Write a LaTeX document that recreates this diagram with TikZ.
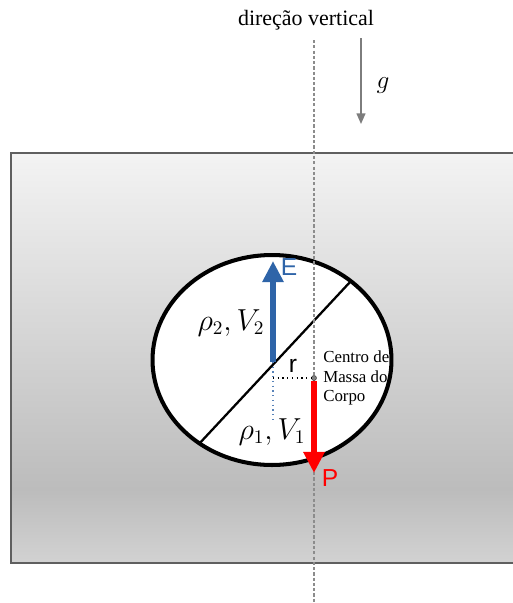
\documentclass[tikz,border=0pt]{standalone}
\usepackage{fontspec}
\setmainfont{Liberation Serif}
\setsansfont{Liberation Sans}
\usepackage{tikz}
\usetikzlibrary{positioning,arrows.meta,shapes.geometric}

\definecolor{azulE}{RGB}{46,100,168}
\definecolor{cinzaBorda}{RGB}{95,95,95}
\definecolor{cinzaBase}{RGB}{210,210,210}
\definecolor{cinzaEscuro}{RGB}{188,188,188}
\definecolor{cinzaClaro}{RGB}{243,243,243}
\definecolor{cinzaSeta}{RGB}{125,125,125}
\pgfdeclareverticalshading{fundo}{100bp}{color(0bp)=(cinzaBase); color(25bp)=(cinzaBase); color(34bp)=(cinzaEscuro); color(75bp)=(cinzaClaro); color(100bp)=(cinzaClaro)}

\begin{document}
\begin{tikzpicture}[x=0.02cm, y=-0.02cm,
  forca/.style={line width=3.4pt, -{Triangle[length=12pt,width=11.5pt]}},
  letra/.style={font=\sffamily\fontsize{14}{14}\selectfont, inner sep=0pt},
  eixo/.style={draw=gray!90, line width=0.7pt, dash pattern=on 1.8pt off 1.2pt},
  gravidade/.style={draw=cinzaSeta, line width=0.9pt, -{Triangle[length=6pt,width=5pt]}},
  grandeza/.style={font=\fontsize{16}{16}\selectfont, inner sep=0pt},
]
\useasboundingbox (0,0) rectangle (513,603);

% recipiente com o fluido
\path[shading=fundo, draw=cinzaBorda, line width=1.5pt] (11,153) rectangle (560,563);

% corpo
\node[ellipse, draw, line width=2.3pt, fill=white, minimum width=4.78cm, minimum height=4.2cm,
  inner sep=0pt, outer sep=0pt] (corpo) at (272,360) {};
\draw[line width=1.3pt] (corpo.229) -- (corpo.45);

% eixo vertical
\coordinate (topo) at (314,40);
\coordinate (base) at (314,603);
\draw[eixo] (topo) -- (base);
\node[font=\fontsize{12.5}{14}\selectfont] (titulo) at (306,20) {direção vertical};

% gravidade
\coordinate (g0) at (361,38);
\coordinate (g1) at (361,124);
\draw[gravidade] (g0) -- (g1);
\node[font=\fontsize{15}{15}\selectfont] (gtxt) at (383,86) {$g$};

% empuxo
\coordinate (baseE) at (273,362);
\coordinate (pontaE) at (273,261);
\coordinate (pe) at (273,421);
\coordinate (meio) at (273,378);
\draw[dotted, azulE!80, line width=0.7pt] (baseE) -- (pe);
\draw[forca, azulE] (baseE) -- (pontaE);
\node[letra, text=azulE] (E) at (289,267) {E};

% centro de massa e peso
\node[circle, fill=gray, draw=darkgray, line width=0.3pt, inner sep=0pt, minimum size=0.1cm] (cm) at (314,378) {};
\draw[dotted, line width=0.7pt] (meio) -- (cm);
\coordinate (pontaP) at (314,473);
\draw[forca, red] (cm.south) -- (pontaP);
\node[letra, text=red] (P) at (330,478) {P};
\node[letra] (r) at (293,366) {r};
\node[align=left, anchor=west, font=\fontsize{9.6}{11}\selectfont, inner sep=0pt, right=3.5pt of cm] (legenda) {Centro de\\Massa do\\Corpo};

% densidades e volumes
\node[grandeza] (parte2) at (231,323) {$\rho_2, V_2$};
\node[grandeza] (parte1) at (272,432) {$\rho_1, V_1$};
\end{tikzpicture}
\end{document}
